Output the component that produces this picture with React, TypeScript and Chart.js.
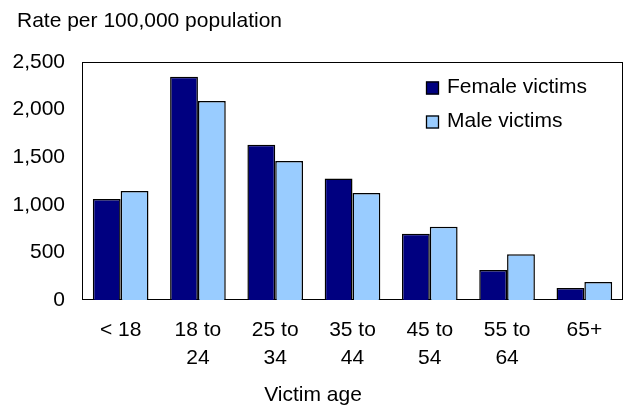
import React, { useEffect, useRef } from "react";
import { Chart, registerables } from "chart.js";

Chart.register(...registerables);

const categories: (string | string[])[] = [
  "< 18",
  ["18 to", "24"],
  ["25 to", "34"],
  ["35 to", "44"],
  ["45 to", "54"],
  ["55 to", "64"],
  "65+",
];
const femaleVictims = [1060, 2345, 1630, 1275, 695, 315, 125];
const maleVictims = [1145, 2090, 1460, 1125, 770, 480, 190];
const seriesNames = ["Female victims", "Male victims"];
const seriesColors = ["#000080", "#99CCFF"];
const yTitle = "Rate per 100,000 population";
const xTitle = "Victim age";

const FONT = "'Liberation Sans', Arial, Helvetica, sans-serif";
const FS = 21;

const decorPlugin = {
  id: "decor",
  beforeDatasetsDraw(chart: any) {
    const { ctx, chartArea } = chart;
    ctx.save();
    ctx.strokeStyle = "#000";
    ctx.lineWidth = 1;
    const l = Math.round(chartArea.left) + 0.5;
    const t = Math.round(chartArea.top) + 0.5;
    const r = Math.round(chartArea.right) - 0.5;
    const b = Math.round(chartArea.bottom) - 0.5;
    ctx.strokeRect(l, t, r - l, b - t);
    ctx.restore();
  },
  afterDraw(chart: any) {
    const { ctx } = chart;
    ctx.save();
    ctx.fillStyle = "#000";
    ctx.font = `${FS}px ${FONT}`;
    ctx.textBaseline = "middle";
    ctx.textAlign = "left";
    ctx.fillText(yTitle, 17, 21);
    ctx.textAlign = "center";
    ctx.fillText(xTitle, 313, 395);
    // legend
    const rows = [88, 122];
    ctx.textAlign = "left";
    seriesNames.forEach((name, i) => {
      const y = rows[i];
      ctx.fillStyle = seriesColors[i];
      ctx.fillRect(426, y - 6.5, 13, 13);
      ctx.strokeStyle = "#000";
      ctx.lineWidth = 1.3;
      ctx.strokeRect(426.5, y - 6, 12, 12);
      ctx.fillStyle = "#000";
      ctx.fillText(name, 447, y - 1);
    });
    ctx.restore();
  },
};

export default function App() {
  const ref = useRef<HTMLCanvasElement | null>(null);
  useEffect(() => {
    if (!ref.current) return;
    const chart = new Chart(ref.current, {
      type: "bar",
      data: {
        labels: categories,
        datasets: [
          {
            label: seriesNames[0],
            data: femaleVictims,
            backgroundColor: seriesColors[0],
            borderColor: "#000",
            borderWidth: 1.5,
            barPercentage: 1,
            categoryPercentage: 0.72,
          },
          {
            label: seriesNames[1],
            data: maleVictims,
            backgroundColor: seriesColors[1],
            borderColor: "#000",
            borderWidth: 1.5,
            barPercentage: 1,
            categoryPercentage: 0.72,
          },
        ],
      },
      options: {
        animation: false,
        responsive: false,
        maintainAspectRatio: false,
        layout: { padding: { top: 62, right: 1, left: 0, bottom: 0 } },
        plugins: {
          legend: { display: false },
          tooltip: { enabled: false },
          title: { display: false },
        },
        scales: {
          x: {
            grid: { display: false, drawTicks: false },
            border: { display: false },
            ticks: {
              color: "#000",
              font: { family: FONT, size: FS, lineHeight: 1.35 },
              padding: 16,
              maxRotation: 0,
              autoSkip: false,
            },
            afterFit(scale: any) {
              scale.height = 107;
            },
          },
          y: {
            min: 0,
            max: 2500,
            grid: { display: false, drawTicks: false },
            border: { display: false },
            ticks: {
              stepSize: 500,
              color: "#000",
              font: { family: FONT, size: FS },
              padding: 17,
            },
            afterFit(scale: any) {
              scale.width = 82;
            },
          },
        },
      },
      plugins: [decorPlugin],
    });
    return () => chart.destroy();
  }, []);
  return (
    <div style={{ position: "fixed", left: 0, top: 0, width: 624, height: 407, background: "#fff" }}>
      <canvas ref={ref} width={624} height={407} style={{ width: 624, height: 407, display: "block" }} />
    </div>
  );
}
